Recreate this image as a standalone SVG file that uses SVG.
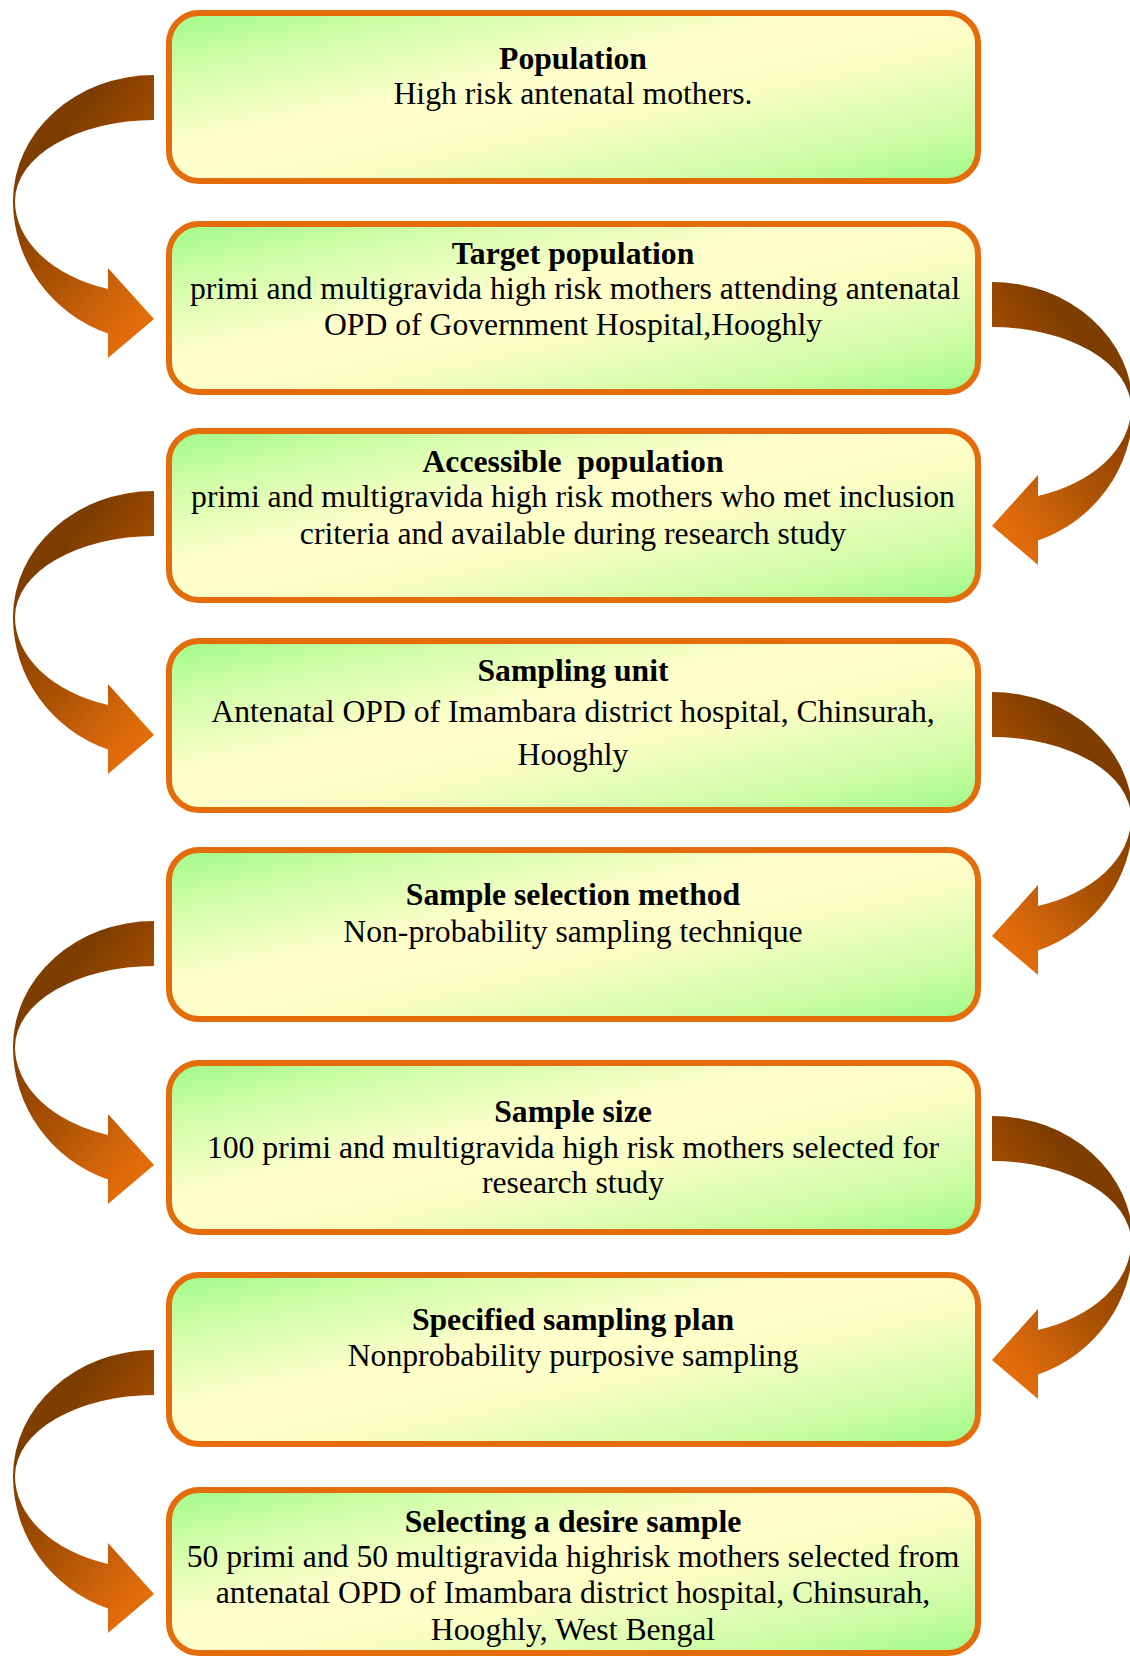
<svg xmlns="http://www.w3.org/2000/svg" xmlns:xlink="http://www.w3.org/1999/xlink" width="1130" height="1656" viewBox="0 0 1130 1656">
<style>
.box{stroke:#e46c0a;stroke-width:6;fill:url(#bg)}
.t{font-family:"Liberation Serif","Times New Roman",serif;font-size:31.7px;fill:#000;text-anchor:middle}
.b{font-weight:bold}
</style>
<defs>
<linearGradient id="bg" x1="0" y1="0" x2="1" y2="1">
<stop offset="0" stop-color="#9ffb89"/>
<stop offset="0.16" stop-color="#cdfda6"/>
<stop offset="0.4" stop-color="#ffffcc"/>
<stop offset="0.58" stop-color="#fcfec6"/>
<stop offset="0.84" stop-color="#cbfca4"/>
<stop offset="1" stop-color="#9ffb89"/>
</linearGradient>
<linearGradient id="ag" x1="0" y1="0" x2="0.674" y2="1.078">
<stop offset="0" stop-color="#8a4300"/>
<stop offset="0.28" stop-color="#7c3d00"/>
<stop offset="0.45" stop-color="#984700"/>
<stop offset="0.62" stop-color="#ac5304"/>
<stop offset="0.8" stop-color="#cc620a"/>
<stop offset="0.95" stop-color="#e36c0a"/>
</linearGradient>
<path id="la" fill="url(#ag)" d="M154,0 A141,126 0 0 0 13,126 A141,140 0 0 0 108,258.4 L108,283 L154,244 L108,193 L108,214 A139,93 0 0 1 15,126 A139,81 0 0 1 154,45 Z"/>
</defs>
<g id="connectors">
<use xlink:href="#la" transform="translate(0,75)"/>
<use xlink:href="#la" transform="translate(0,491)"/>
<use xlink:href="#la" transform="translate(0,921)"/>
<use xlink:href="#la" transform="translate(0,1350)"/>
<use xlink:href="#la" transform="translate(1146,282) scale(-1,1)"/>
<use xlink:href="#la" transform="translate(1146,692) scale(-1,1)"/>
<use xlink:href="#la" transform="translate(1146,1116) scale(-1,1)"/>
</g>
<g id="n1">
<rect class="box" x="169" y="13" width="809" height="168" rx="30"/>
<text class="t b" x="573" y="69">Population</text>
<text class="t" x="573" y="104">High risk antenatal mothers.</text>
</g>
<g id="n2">
<rect class="box" x="169" y="224" width="809" height="168" rx="30"/>
<text class="t b" x="573" y="264">Target population</text>
<text class="t" x="575" y="299">primi and multigravida high risk mothers attending antenatal</text>
<text class="t" x="573" y="335">OPD of Government Hospital,Hooghly</text>
</g>
<g id="n3">
<rect class="box" x="169" y="431" width="809" height="169" rx="30"/>
<text class="t b" x="573" y="472" style="white-space:pre">Accessible  population</text>
<text class="t" x="573" y="507">primi and multigravida high risk mothers who met inclusion</text>
<text class="t" x="573" y="544">criteria and available during research study</text>
</g>
<g id="n4">
<rect class="box" x="169" y="641" width="809" height="169" rx="30"/>
<text class="t b" x="573" y="681">Sampling unit</text>
<text class="t" x="573" y="722">Antenatal OPD of Imambara district hospital, Chinsurah,</text>
<text class="t" x="573" y="765">Hooghly</text>
</g>
<g id="n5">
<rect class="box" x="169" y="850" width="809" height="169" rx="30"/>
<text class="t b" x="573" y="905">Sample selection method</text>
<text class="t" x="573" y="942">Non-probability sampling technique</text>
</g>
<g id="n6">
<rect class="box" x="169" y="1063" width="809" height="169" rx="30"/>
<text class="t b" x="573" y="1122">Sample size</text>
<text class="t" x="573" y="1158">100 primi and multigravida high risk mothers selected for</text>
<text class="t" x="573" y="1193">research study</text>
</g>
<g id="n7">
<rect class="box" x="169" y="1275" width="809" height="169" rx="30"/>
<text class="t b" x="573" y="1330">Specified sampling plan</text>
<text class="t" x="573" y="1366">Nonprobability purposive sampling</text>
</g>
<g id="n8">
<rect class="box" x="169" y="1490" width="809" height="163" rx="30"/>
<text class="t b" x="573" y="1532">Selecting a desire sample</text>
<text class="t" x="573" y="1567">50 primi and 50 multigravida highrisk mothers selected from</text>
<text class="t" x="573" y="1603">antenatal OPD of Imambara district hospital, Chinsurah,</text>
<text class="t" x="573" y="1640">Hooghly, West Bengal</text>
</g>
</svg>
